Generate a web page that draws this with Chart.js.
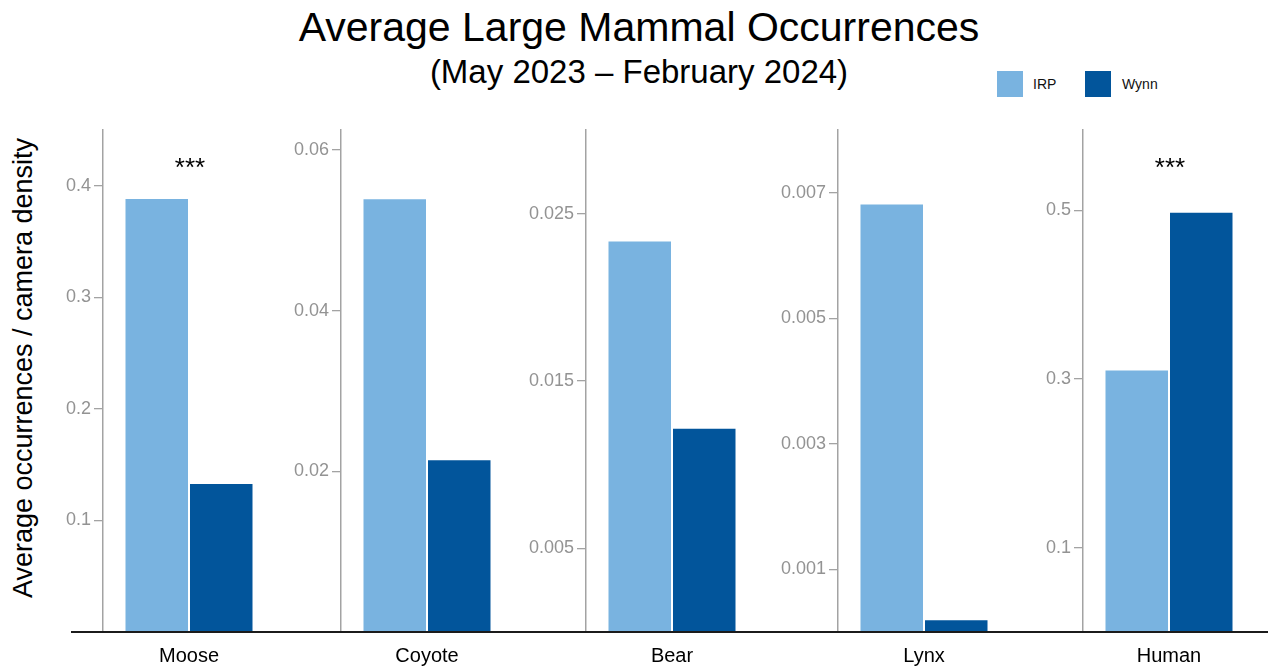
<!DOCTYPE html>
<html>
<head>
<meta charset="utf-8">
<script src="https://cdn.jsdelivr.net/npm/chart.js@4/dist/chart.umd.min.js"></script>
<style>
  body { margin: 0; background: #ffffff; font-family: "Liberation Sans", Arial, sans-serif; }
  #wrap { position: relative; width: 1268px; height: 668px; overflow: hidden; background: #fff; }
  #wrap canvas { position: absolute; top: 0; }
  .title { position: absolute; left: 639px; transform: translateX(-50%); white-space: nowrap; line-height: 1; color: #000; }
  .ytitle { position: absolute; left: 23px; top: 368px; transform: translate(-50%, -50%) rotate(-90deg);
            white-space: nowrap; font-size: 27px; line-height: 1; color: #000; }
  .swatch { position: absolute; width: 26px; height: 26px; top: 71px; }
  .legtext { position: absolute; top: 76px; font-size: 14px; line-height: 16px; color: #111; }
</style>
</head>
<body>
<div id="wrap">
  <div class="title" style="top:7px;font-size:41px;">Average Large Mammal Occurrences</div>
  <div class="title" style="top:55px;font-size:33px;">(May 2023 – February 2024)</div>
  <div class="ytitle" id="yTitle"></div>
  <div class="swatch" id="swIRP" style="left:997px;"></div>
  <div class="legtext" id="txIRP" style="left:1033px;"></div>
  <div class="swatch" id="swWynn" style="left:1085px;"></div>
  <div class="legtext" id="txWynn" style="left:1122px;"></div>
</div>
<script>
// ---- data ----
const species = ['Moose', 'Coyote', 'Bear', 'Lynx', 'Human'];
const seriesNames = ['IRP', 'Wynn'];
const irpValues = [0.389, 0.054, 0.0234, 0.00683, 0.311];
const wynnValues = [0.1336, 0.0215, 0.0122, 0.000205, 0.498];
const significance = ['***', '', '', '', '***'];
const mooseTicks = [0.1, 0.2, 0.3, 0.4];
const coyoteTicks = [0.02, 0.04, 0.06];
const bearTicks = [0.005, 0.015, 0.025];
const lynxTicks = [0.001, 0.003, 0.005, 0.007];
const humanTicks = [0.1, 0.3, 0.5];
const axisMax = [0.45, 0.0625, 0.03, 0.008, 0.595];
const yTitle = 'Average occurrences / camera density';

// ---- styling / layout ----
const colors = ['#79b3e0', '#02559b'];
const tickSets = [mooseTicks, coyoteTicks, bearTicks, lynxTicks, humanTicks];
const panels = [
  { left: 0,    width: 285, axisX: 103 },
  { left: 285,  width: 240, axisX: 341 },
  { left: 525,  width: 255, axisX: 586 },
  { left: 780,  width: 250, axisX: 838 },
  { left: 1030, width: 238, axisX: 1083 }
];
const plotWidth = 172;
const H = 668, plotTop = 130, xAxisHeight = 36;

document.getElementById('yTitle').textContent = yTitle;
document.getElementById('swIRP').style.background = colors[0];
document.getElementById('swWynn').style.background = colors[1];
document.getElementById('txIRP').textContent = seriesNames[0];
document.getElementById('txWynn').textContent = seriesNames[1];

// black baseline running under all panels, plus significance stars
const panelDecor = {
  id: 'panelDecor',
  afterDatasetsDraw(chart, args, opts) {
    const { ctx, chartArea } = chart;
    ctx.save();
    ctx.fillStyle = '#1b1b1b';
    ctx.fillRect(opts.lineFrom, chartArea.bottom - 1, chart.width - opts.lineFrom, 2);
    if (opts.mark) {
      const xs = chart.scales.x;
      ctx.fillStyle = '#000';
      ctx.font = '26px "Liberation Sans", Arial, sans-serif';
      ctx.textAlign = 'center';
      ctx.textBaseline = 'alphabetic';
      ctx.fillText(opts.mark, xs.getPixelForValue(0) + 1, chartArea.top + 46);
    }
    ctx.restore();
  }
};

const wrap = document.getElementById('wrap');
species.forEach((name, i) => {
  const p = panels[i];
  const cv = document.createElement('canvas');
  cv.width = p.width; cv.height = H;
  cv.style.left = p.left + 'px';
  cv.style.width = p.width + 'px'; cv.style.height = H + 'px';
  wrap.appendChild(cv);
  const yWidth = p.axisX - p.left;
  const ticks = tickSets[i];
  new Chart(cv, {
    type: 'bar',
    data: {
      labels: [name],
      datasets: [
        { label: seriesNames[0], data: [irpValues[i]], backgroundColor: colors[0],
          borderColor: 'rgba(255,255,255,0.18)', borderWidth: 1 },
        { label: seriesNames[1], data: [wynnValues[i]], backgroundColor: colors[1],
          borderColor: 'rgba(255,255,255,0.12)', borderWidth: 1 }
      ]
    },
    options: {
      responsive: false,
      animation: false,
      devicePixelRatio: 1,
      layout: { padding: { top: plotTop, right: p.width - yWidth - plotWidth, bottom: 0, left: 0 } },
      datasets: { bar: { categoryPercentage: 0.75, barPercentage: 1.0 } },
      plugins: {
        legend: { display: false },
        tooltip: { enabled: false },
        panelDecor: { lineFrom: i === 0 ? 71 : 0, mark: significance[i] }
      },
      scales: {
        x: {
          grid: { display: false },
          border: { display: false },
          ticks: { color: '#000', font: { size: 20, family: '"Liberation Sans", Arial, sans-serif' }, padding: 4 },
          afterFit(s) { s.height = xAxisHeight; }
        },
        y: {
          min: 0,
          max: axisMax[i],
          afterBuildTicks(s) { s.ticks = ticks.map(v => ({ value: v })); },
          afterFit(s) { s.width = yWidth; },
          grid: { drawOnChartArea: false, drawTicks: true, tickLength: 9, color: '#a3a3a3', lineWidth: 1.3 },
          border: { display: true, color: '#a3a3a3', width: 1.5 },
          ticks: {
            color: '#939393', padding: 3,
            font: { size: 18, family: '"Liberation Sans", Arial, sans-serif' },
            callback: v => String(v)
          }
        }
      }
    },
    plugins: [panelDecor]
  });
});
</script>
</body>
</html>
